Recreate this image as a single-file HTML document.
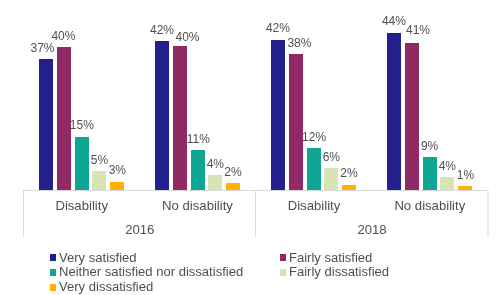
<!DOCTYPE html>
<html><head><meta charset="utf-8"><style>
html,body{margin:0;padding:0;background:#fff;}
body{width:500px;height:295px;position:relative;overflow:hidden;font-family:"Liberation Sans",sans-serif;color:#4f4f4f;}
.b{position:absolute;}
.t{position:absolute;filter:blur(0.3px);white-space:nowrap;text-align:center;width:120px;}
.l{font-size:12px;line-height:12px;}
.c{font-size:13.15px;line-height:13.15px;}
.g{position:absolute;filter:blur(0.3px);white-space:nowrap;font-size:13.05px;line-height:13px;}
.sq{position:absolute;width:6px;height:7px;filter:blur(0.3px);}
</style></head><body>

<div class="b" style="left:39px;top:59px;width:14px;height:131px;background:#22208c"></div>
<div class="b" style="left:56.75px;top:47px;width:14px;height:143px;background:#912a64"></div>
<div class="b" style="left:74.5px;top:136.5px;width:14px;height:53.5px;background:#0fa794"></div>
<div class="b" style="left:92.25px;top:171.3px;width:14px;height:18.7px;background:#d6e4b6"></div>
<div class="b" style="left:110px;top:181.6px;width:14px;height:8.4px;background:#ffb000"></div>
<div class="b" style="left:155px;top:41.3px;width:14px;height:148.7px;background:#22208c"></div>
<div class="b" style="left:172.75px;top:46.1px;width:14px;height:143.9px;background:#912a64"></div>
<div class="b" style="left:190.5px;top:149.9px;width:14px;height:40.1px;background:#0fa794"></div>
<div class="b" style="left:208.25px;top:174.7px;width:14px;height:15.3px;background:#d6e4b6"></div>
<div class="b" style="left:226px;top:183.2px;width:14px;height:6.8px;background:#ffb000"></div>
<div class="b" style="left:271px;top:40.1px;width:14px;height:149.9px;background:#22208c"></div>
<div class="b" style="left:288.75px;top:54.2px;width:14px;height:135.8px;background:#912a64"></div>
<div class="b" style="left:306.5px;top:148.2px;width:14px;height:41.8px;background:#0fa794"></div>
<div class="b" style="left:324.25px;top:167.9px;width:14px;height:22.1px;background:#d6e4b6"></div>
<div class="b" style="left:342px;top:184.7px;width:14px;height:5.3px;background:#ffb000"></div>
<div class="b" style="left:387px;top:33px;width:14px;height:157px;background:#22208c"></div>
<div class="b" style="left:404.75px;top:43.1px;width:14px;height:146.9px;background:#912a64"></div>
<div class="b" style="left:422.5px;top:156.8px;width:14px;height:33.2px;background:#0fa794"></div>
<div class="b" style="left:440.25px;top:177.1px;width:14px;height:12.9px;background:#d6e4b6"></div>
<div class="b" style="left:458px;top:185.6px;width:14px;height:4.4px;background:#ffb000"></div>
<div class="b" style="left:23px;top:190px;width:466px;height:1px;background:#d9d9d9"></div>
<div class="b" style="left:23px;top:190px;width:1px;height:47px;background:#d9d9d9"></div>
<div class="b" style="left:255px;top:190px;width:1px;height:47px;background:#d9d9d9"></div>
<div class="b" style="left:487px;top:190px;width:2px;height:47px;background:#ebebeb"></div>
<div class="t l" style="left:-17.5px;top:41.54px">37%</div>
<div class="t l" style="left:3.4px;top:29.54px">40%</div>
<div class="t l" style="left:21.85px;top:119.14px">15%</div>
<div class="t l" style="left:39.4px;top:153.54px">5%</div>
<div class="t l" style="left:57.3px;top:164.24px">3%</div>
<div class="t l" style="left:102px;top:24.19px">42%</div>
<div class="t l" style="left:127.5px;top:30.94px">40%</div>
<div class="t l" style="left:138.3px;top:132.64px">11%</div>
<div class="t l" style="left:155.3px;top:157.64px">4%</div>
<div class="t l" style="left:172.9px;top:165.84px">2%</div>
<div class="t l" style="left:217.9px;top:22.44px">42%</div>
<div class="t l" style="left:239.4px;top:36.64px">38%</div>
<div class="t l" style="left:254.1px;top:131.24px">12%</div>
<div class="t l" style="left:271.35px;top:150.54px">6%</div>
<div class="t l" style="left:289px;top:167.44px">2%</div>
<div class="t l" style="left:333.9px;top:15.04px">44%</div>
<div class="t l" style="left:358px;top:24.44px">41%</div>
<div class="t l" style="left:369.55px;top:139.74px">9%</div>
<div class="t l" style="left:387.35px;top:159.74px">4%</div>
<div class="t l" style="left:405.5px;top:169.04px">1%</div>
<div class="t c" style="left:21.7px;top:199.07px">Disability</div>
<div class="t c" style="left:137.5px;top:199.37px">No disability</div>
<div class="t c" style="left:254px;top:199.07px">Disability</div>
<div class="t c" style="left:369.8px;top:199.37px">No disability</div>
<div class="t c" style="left:79.8px;top:222.97px">2016</div>
<div class="t c" style="left:312px;top:222.97px">2018</div>
<div class="sq" style="left:50px;top:254px;background:#22208c"></div>
<div class="g" style="left:59px;top:250.7px">Very satisfied</div>
<div class="sq" style="left:280px;top:254px;background:#912a64"></div>
<div class="g" style="left:289px;top:250.7px">Fairly satisfied</div>
<div class="sq" style="left:50px;top:269px;background:#0fa794"></div>
<div class="g" style="left:59px;top:265.4px">Neither satisfied nor dissatisfied</div>
<div class="sq" style="left:280px;top:269px;background:#d6e4b6"></div>
<div class="g" style="left:289px;top:265.4px">Fairly dissatisfied</div>
<div class="sq" style="left:50px;top:284px;background:#ffb000"></div>
<div class="g" style="left:59px;top:280.2px">Very dissatisfied</div>
</body></html>
